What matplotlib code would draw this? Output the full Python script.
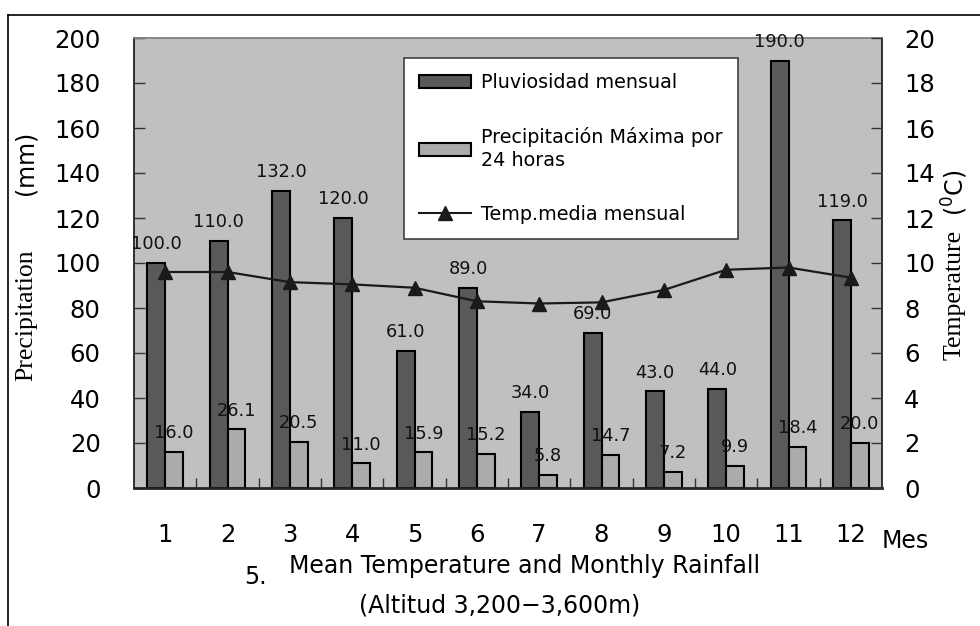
import matplotlib
matplotlib.use('Agg')
import matplotlib.pyplot as plt
from matplotlib.lines import Line2D
from matplotlib.patches import Patch

months = ['1', '2', '3', '4', '5', '6', '7', '8', '9', '10', '11', '12']
rain_monthly = [100.0, 110.0, 132.0, 120.0, 61.0, 89.0, 34.0, 69.0, 43.0, 44.0, 190.0, 119.0]
rain_max24 = [16.0, 26.1, 20.5, 11.0, 15.9, 15.2, 5.8, 14.7, 7.2, 9.9, 18.4, 20.0]
temp_mean = [9.6, 9.6, 9.15, 9.05, 8.9, 8.3, 8.2, 8.25, 8.8, 9.7, 9.8, 9.35]
left_ticks = [0, 20, 40, 60, 80, 100, 120, 140, 160, 180, 200]
right_ticks = [0, 2, 4, 6, 8, 10, 12, 14, 16, 18, 20]

SANS = ['DejaVu Sans']
SERIF = ['Liberation Serif', 'DejaVu Serif']

W, H = 980, 626
fig = plt.figure(figsize=(W / 100, H / 100), dpi=100)
fig.patch.set_facecolor('white')

def fx(x):
    return x / W

def fy(y):
    return 1 - y / H

L, R, T, B = 134, 882, 38, 488
ax = fig.add_axes([fx(L), fy(B), (R - L) / W, (B - T) / H])
ax.set_facecolor('#C0C0C0')

x = list(range(len(months)))
bw = 0.285
dark = '#595959'
light = '#ABABAB'
b1 = ax.bar([i - bw / 2 for i in x], rain_monthly, width=bw, color=dark,
            edgecolor='black', linewidth=1.5, zorder=2)
b2 = ax.bar([i + bw / 2 for i in x], rain_max24, width=bw, color=light,
            edgecolor='black', linewidth=1.5, zorder=2)

for bars, vals in ((b1, rain_monthly), (b2, rain_max24)):
    for rect, v in zip(bars, vals):
        ax.annotate(f'{v:.1f}', (rect.get_x() + rect.get_width() / 2, v),
                    xytext=(0, 7), textcoords='offset points', ha='center', va='bottom',
                    fontsize=12.8, family=SANS, color='#111111', zorder=5,
                    annotation_clip=False)

ax.set_xlim(-0.5, len(months) - 0.5)
ax.set_ylim(0, 200)
ax.set_yticks(left_ticks)
ax.set_yticklabels([str(t) for t in left_ticks], family=SANS, fontsize=17.5)
ax.tick_params(axis='y', direction='in', length=8, width=1, color='#333333', pad=24)
ax.set_xticks(x)
ax.set_xticklabels(months, family=SANS, fontsize=17.5)
ax.tick_params(axis='x', which='major', length=0, pad=25)
ax.set_xticks([i + 0.5 for i in x[:-1]], minor=True)
ax.tick_params(axis='x', which='minor', direction='in', length=7, width=1, color='#333333')

for s in ['left', 'right']:
    ax.spines[s].set_color('#222222')
    ax.spines[s].set_linewidth(1.3)
ax.spines['bottom'].set_color('#222222')
ax.spines['bottom'].set_linewidth(2)
ax.spines['top'].set_color('#808080')
ax.spines['top'].set_linewidth(1.3)

ax2 = ax.twinx()
ax2.plot(x, temp_mean, color='#1a1a1a', linewidth=1.6, marker='^', markersize=10,
         markerfacecolor='#1a1a1a', markeredgecolor='#1a1a1a', zorder=4)
ax2.set_ylim(0, 20)
ax2.set_yticks(right_ticks)
ax2.set_yticklabels([str(t) for t in right_ticks], family=SANS, fontsize=17.5)
ax2.tick_params(axis='y', direction='in', length=8, width=1, color='#333333', pad=16)
for s in ax2.spines.values():
    s.set_visible(False)

handles = [Patch(facecolor=dark, edgecolor='black', linewidth=1.5),
           Patch(facecolor=light, edgecolor='black', linewidth=1.5),
           Line2D([0], [0], color='#1a1a1a', linewidth=1.5, marker='^', markersize=10)]
labels = ['Pluviosidad mensual', 'Precipitación Máxima por\n24 horas', 'Temp.media mensual']
leg = ax2.legend(handles, labels, loc='upper left',
                 bbox_to_anchor=((404 - L) / (R - L), (B - 58) / (B - T)),
                 borderaxespad=0, prop={'family': SANS, 'size': 13.8},
                 frameon=True, fancybox=False, framealpha=1, edgecolor='#404040',
                 facecolor='white', handlelength=2.7, handleheight=0.65,
                 handletextpad=0.5, borderpad=0.8, labelspacing=1.8, numpoints=1)
leg.get_texts()[1].set_linespacing(1.3)
leg.get_frame().set_linewidth(1.2)
leg.set_zorder(10)

# axis titles
fig.text(fx(26), fy(315), 'Precipitation', rotation=90, ha='center', va='center',
         family=SERIF, fontsize=18.5)
fig.text(fx(25), fy(163), '(mm)', rotation=90, ha='center', va='center',
         family=SANS, fontsize=17)
fig.text(fx(955), fy(295), 'Temperature', rotation=90, ha='center', va='center',
         family=SERIF, fontsize=18.5)
fig.text(fx(955), fy(193), '($^{0}$C)', rotation=90, ha='center', va='center',
         family=SANS, fontsize=17)

fig.text(fx(905), fy(541), 'Mes', ha='center', va='center', family=SANS, fontsize=17)
fig.text(fx(255), fy(577), '5.', ha='center', va='center', family=SANS, fontsize=17)
fig.text(fx(525), fy(566), 'Mean Temperature and Monthly Rainfall', ha='center',
         va='center', family=SANS, fontsize=17)
fig.text(fx(500), fy(606), '(Altitud 3,200\u22123,600m)', ha='center', va='center',
         family=SANS, fontsize=17)

# outer frame (partial, as in the scanned figure)
fig.add_artist(Line2D([fx(8), fx(8)], [fy(15), 0], transform=fig.transFigure,
                      color='black', linewidth=1.2))
fig.add_artist(Line2D([fx(8), 1], [fy(15), fy(15)], transform=fig.transFigure,
                      color='black', linewidth=1.2))

fig.savefig('out.png', dpi=100)
